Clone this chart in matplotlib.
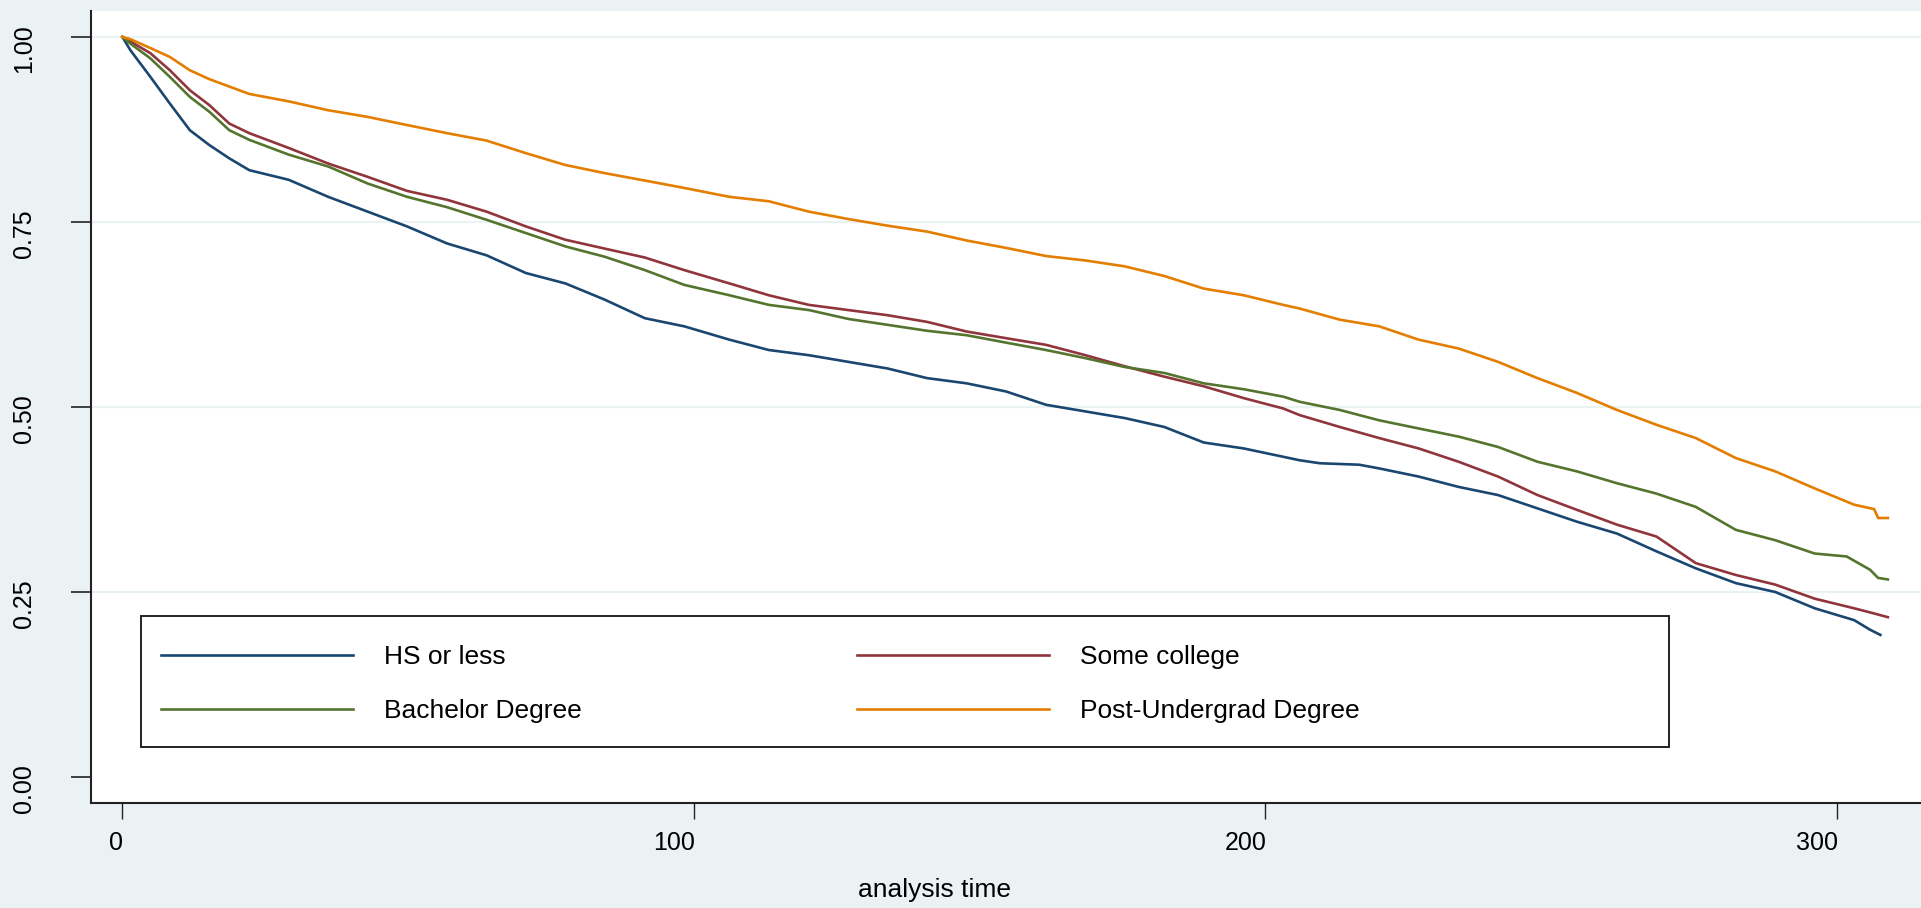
import matplotlib
matplotlib.use("Agg")
import matplotlib.pyplot as plt
import matplotlib.transforms as mtransforms
from matplotlib.patches import Rectangle
from matplotlib.lines import Line2D

# ---- data ----
groups = ["HS or less", "Some college", "Bachelor Degree", "Post-Undergrad Degree"]
colors = ["#1a476f", "#90353b", "#55752f", "#e37e00"]

t_common = [0, 1.4, 4.9, 8.3, 11.8, 15.2, 18.7, 22.2, 29.1, 36.0, 42.9, 49.8, 56.8,
            63.7, 70.6, 77.5, 84.4, 91.4, 98.3, 106.2, 113.1, 120.1, 127.0, 133.9,
            140.8, 147.7, 154.6, 161.6, 168.5, 175.4, 182.3, 189.2, 196.2, 203.1,
            206.0, 213.0, 219.9, 226.8, 233.8, 240.7, 247.6, 254.5, 261.5, 268.4,
            275.3, 282.3, 289.2, 296.1]

t_hs = t_common[:33] + [206.0, 209.5, 216.4, 219.9, 226.8, 233.8, 240.7, 247.6, 254.5,
                        261.5, 268.4, 275.3, 282.3, 289.2, 296.1, 303.0, 305.8, 307.6]
s_hs = [1.0, 0.982, 0.946, 0.910, 0.874, 0.854, 0.836, 0.820, 0.807, 0.784, 0.764,
        0.744, 0.721, 0.705, 0.681, 0.667, 0.645, 0.620, 0.609,
        0.591, 0.577, 0.570, 0.561, 0.552, 0.539, 0.532, 0.521, 0.503, 0.494, 0.485,
        0.473, 0.452, 0.444,
        0.428, 0.424, 0.422, 0.417, 0.406, 0.392, 0.381, 0.363, 0.345, 0.329, 0.305,
        0.282, 0.262, 0.250, 0.228, 0.212, 0.199, 0.192]

t_sc = t_common + [303.0, 306.5, 308.9]
s_sc = [1.0, 0.994, 0.978, 0.955, 0.928, 0.908, 0.883, 0.870, 0.850, 0.829, 0.811,
        0.792, 0.780, 0.764, 0.744, 0.726, 0.714, 0.702, 0.685,
        0.667, 0.651, 0.638, 0.631, 0.624, 0.615, 0.602, 0.593, 0.584, 0.570, 0.555,
        0.541, 0.528, 0.512, 0.498,
        0.489, 0.473, 0.458, 0.444, 0.426, 0.406, 0.381, 0.361, 0.341, 0.325, 0.289,
        0.273, 0.260, 0.241, 0.228, 0.221, 0.216]

t_ba = t_common + [301.7, 305.8, 307.2, 308.9]
s_ba = [1.0, 0.991, 0.971, 0.946, 0.919, 0.899, 0.874, 0.861, 0.841, 0.825, 0.802,
        0.784, 0.770, 0.753, 0.735, 0.717, 0.703, 0.685, 0.665,
        0.651, 0.638, 0.631, 0.619, 0.611, 0.603, 0.597, 0.587, 0.577, 0.566, 0.554,
        0.546, 0.532, 0.524, 0.514,
        0.507, 0.496, 0.482, 0.471, 0.460, 0.446, 0.426, 0.413, 0.397, 0.383, 0.365,
        0.334, 0.320, 0.302, 0.298, 0.280, 0.269, 0.267]

t_pu = t_common + [303.0, 306.5, 307.2, 308.9]
s_pu = [1.0, 0.997, 0.985, 0.973, 0.955, 0.943, 0.933, 0.923, 0.913, 0.901, 0.892,
        0.881, 0.870, 0.860, 0.843, 0.827, 0.816, 0.806, 0.796,
        0.784, 0.778, 0.764, 0.754, 0.745, 0.737, 0.725, 0.715, 0.704, 0.698, 0.690,
        0.677, 0.660, 0.651, 0.638,
        0.633, 0.618, 0.609, 0.591, 0.579, 0.561, 0.539, 0.519, 0.496, 0.476, 0.458,
        0.431, 0.413, 0.390, 0.368, 0.362, 0.350, 0.350]

series = [(t_hs, s_hs), (t_sc, s_sc), (t_ba, s_ba), (t_pu, s_pu)]
x_ticks = [0, 100, 200, 300]
y_ticks = [0.0, 0.25, 0.5, 0.75, 1.0]
y_ticklabels = ["0.00", "0.25", "0.50", "0.75", "1.00"]
x_label = "analysis time"

# ---- figure ----
W, H = 1921, 908
bg = "#eaf2f3"
plt.rcParams["font.family"] = ["Liberation Sans", "DejaVu Sans"]
fig = plt.figure(figsize=(W / 100, H / 100), dpi=100, facecolor=bg)
ax = fig.add_axes([91 / W, 1 - 803 / H, 1 - 91 / W, (803 - 11) / H])
ax.set_facecolor("white")

for (t, s), c, g in zip(series, colors, groups):
    ax.plot(t, s, color=c, lw=1.9, label=g, solid_joinstyle="miter", zorder=3)

ax.set_xlim(-5.5, 314.7)
ax.set_ylim(-0.0351, 1.0351)

ax.set_xticks(x_ticks)
ax.set_yticks(y_ticks)
ax.set_yticklabels(y_ticklabels, rotation=90, va="center")
ax.tick_params(axis="x", length=11.5, width=1.0, color="#222222", labelsize=18, pad=9)
ax.tick_params(axis="y", length=14.4, width=1.2, color="#222222", labelsize=18, pad=25)

# Stata-like label placement
for lab in ax.get_xticklabels():
    lab.set_ha("right")
    lab.set_transform(lab.get_transform() +
                      mtransforms.ScaledTranslation(1 / 100, 0, fig.dpi_scale_trans))
for lab in ax.get_yticklabels():
    lab.set_transform(lab.get_transform() +
                      mtransforms.ScaledTranslation(0, -12 / 100, fig.dpi_scale_trans))

ax.grid(axis="y", color=bg, lw=1.6, zorder=0)
ax.get_ygridlines()[0].set_visible(False)

for side in ["top", "right"]:
    ax.spines[side].set_visible(False)
for side in ["left", "bottom"]:
    ax.spines[side].set_color("#222222")
    ax.spines[side].set_linewidth(1.5)

fig.text(934 / W, 1 - 897 / H, x_label, fontsize=19, ha="center", va="baseline")

# ---- legend ----
box = Rectangle((141 / W, 1 - 747 / H), (1669 - 141) / W, (747 - 616) / H,
                transform=fig.transFigure, facecolor="white", edgecolor="#111111",
                lw=1.3, zorder=5)
box.set_clip_on(False)
ax.add_patch(box)

handles = [Line2D([], [], color=c, lw=1.9) for c in colors]
order = [0, 2, 1, 3]
leg = ax.legend([handles[i] for i in order], [groups[i] for i in order], ncol=2,
                loc="upper left", bbox_to_anchor=(161 / W, 1 - 645 / H),
                bbox_transform=fig.transFigure, frameon=False, fontsize=19,
                handlelength=7.27, handletextpad=1.17, columnspacing=10.45,
                labelspacing=1.13, borderpad=0, borderaxespad=0)
leg.set_zorder(6)

fig.savefig("out.png", dpi=100, facecolor=bg)
